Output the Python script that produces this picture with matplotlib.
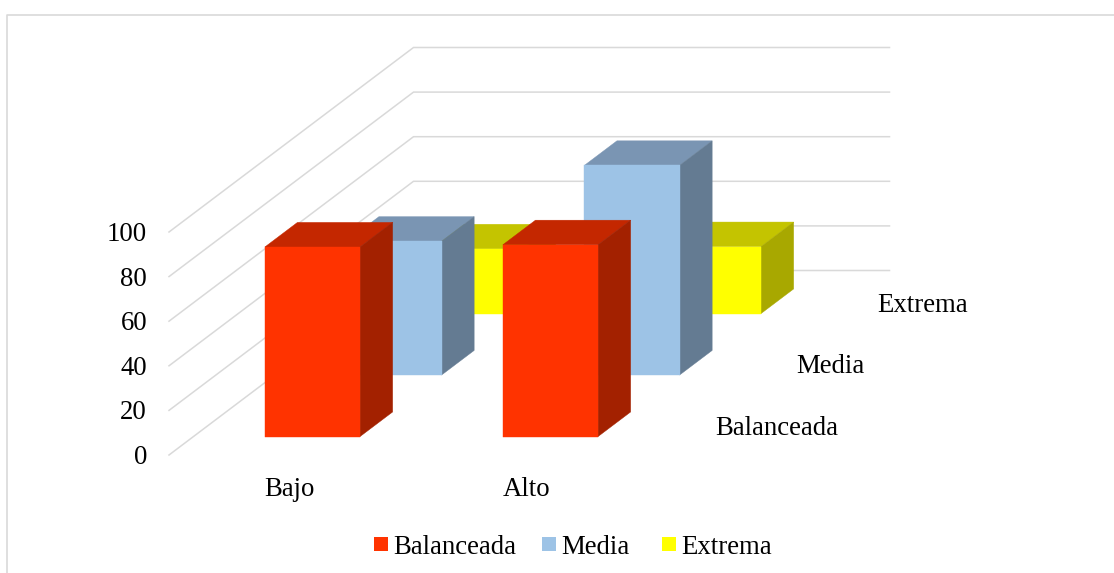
import matplotlib
matplotlib.use("Agg")
import matplotlib.pyplot as plt
from matplotlib.patches import Polygon, Rectangle


categories = ["Bajo", "Alto"]
series_names = ["Balanceada", "Media", "Extrema"]
balanceada = [85, 86]
media = [60, 94]
extrema = [29, 30]
y_ticks = [0, 20, 40, 60, 80, 100]

front_colors = ["#FF3300", "#9DC3E6", "#FFFF00"]
top_colors = ["#C42700", "#7A95B3", "#C4C400"]
side_colors = ["#A32100", "#647B92", "#A8A800"]

# oblique projection, pixels per unit of each axis
ORIGIN_X = 169
ORIGIN_Y = 455
CATEGORY_STEP = 238
DEPTH_STEP_X = 81.5
DEPTH_STEP_Y = 61.5
VALUE_STEP = 2.23

BAR_SIZE = 0.4
BAR_GAP = 0.3
GRID_COLOR = "#D9D9D9"
FONT_SIZE = 19.3


def project(x, value, z):
    px = ORIGIN_X + x * CATEGORY_STEP + z * DEPTH_STEP_X
    py = ORIGIN_Y - value * VALUE_STEP - z * DEPTH_STEP_Y
    return px, py


def draw_grid(ax):
    n_cat = len(categories)
    n_ser = len(series_names)
    for tick in y_ticks:
        front = project(0, tick, 0)
        corner = project(0, tick, n_ser)
        right = project(n_cat, tick, n_ser)
        ax.plot([front[0], corner[0], right[0]], [front[1], corner[1], right[1]],
                color=GRID_COLOR, lw=1.1, solid_joinstyle="miter", zorder=1)


def draw_bar(ax, cat_index, ser_index, value):
    x0 = cat_index + BAR_GAP
    x1 = x0 + BAR_SIZE
    z0 = ser_index + BAR_GAP
    z1 = z0 + BAR_SIZE

    front = [project(x0, 0, z0), project(x1, 0, z0), project(x1, value, z0), project(x0, value, z0)]
    top = [project(x0, value, z0), project(x1, value, z0), project(x1, value, z1), project(x0, value, z1)]
    side = [project(x1, 0, z0), project(x1, 0, z1), project(x1, value, z1), project(x1, value, z0)]

    for face, color in [(top, top_colors[ser_index]), (side, side_colors[ser_index]),
                        (front, front_colors[ser_index])]:
        ax.add_patch(Polygon(face, closed=True, facecolor=color, edgecolor=color, lw=0.3, zorder=2))


def draw_labels(ax):
    for tick in y_ticks:
        px, py = project(0, tick, 0)
        ax.text(147, py + 9, str(tick), ha="right", va="baseline", fontsize=FONT_SIZE)

    for i, name in enumerate(categories):
        px, py = project(i + 0.5, 0, 0)
        ax.text(px + 1, 496, name, ha="center", va="baseline", fontsize=FONT_SIZE)

    for i, name in enumerate(series_names):
        px, py = project(len(categories), 0, i + 0.5)
        ax.text(px + 29, py + 10.5, name, ha="left", va="baseline", fontsize=FONT_SIZE)


def draw_legend(ax):
    swatch_xs = [374, 542, 662]
    text_xs = [393.5, 561.5, 681.5]
    for i, name in enumerate(series_names):
        ax.add_patch(Rectangle((swatch_xs[i], 537), 14, 14, facecolor=front_colors[i], edgecolor="none"))
        ax.text(text_xs[i], 553.5, name, ha="left", va="baseline", fontsize=FONT_SIZE)


def main():
    plt.rcParams["font.family"] = ["Liberation Serif", "DejaVu Serif"]

    fig = plt.figure(figsize=(11.14, 5.73), dpi=100)
    ax = fig.add_axes([0, 0, 1, 1])
    ax.set_xlim(0, 1114)
    ax.set_ylim(573, 0)
    ax.axis("off")

    # chart frame, cut off at the right and bottom edges
    ax.plot([7.2, 7.2, 1114], [573, 14.5, 14.5], color=GRID_COLOR, lw=1.2)

    draw_grid(ax)

    values = [balanceada, media, extrema]
    for ser_index in reversed(range(len(series_names))):
        for cat_index in range(len(categories)):
            draw_bar(ax, cat_index, ser_index, values[ser_index][cat_index])

    draw_labels(ax)
    draw_legend(ax)

    fig.savefig("out.png", dpi=100)


if __name__ == "__main__":
    main()
